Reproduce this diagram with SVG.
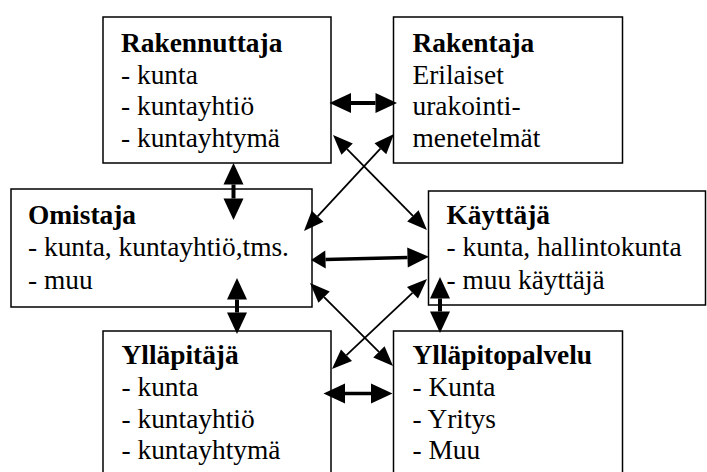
<svg xmlns="http://www.w3.org/2000/svg" width="707" height="472" viewBox="0 0 707 472">
  <style>
    .box { fill: #fff; stroke: #000; stroke-width: 1.5; }
    .t { font-family: 'Liberation Serif', 'Times New Roman', serif; font-size: 27.4px; fill: #000; }
    .h { font-weight: bold; }
    .bold { stroke: #000; stroke-width: 4; fill: none; }
    .thin { stroke: #000; stroke-width: 1.8; fill: none; }
  </style>
  <defs>
    <!-- arrowheads: origin sits on the shaft end, tip points outward -->
    <marker id="hb" markerUnits="userSpaceOnUse" viewBox="0 -11 23 22" markerWidth="23" markerHeight="22" refX="0" refY="0" orient="auto-start-reverse" overflow="visible">
      <path d="M0,-10 L21.5,0 L0,10 z" fill="#000"/>
    </marker>
    <marker id="hs" markerUnits="userSpaceOnUse" viewBox="0 -10 16 20" markerWidth="16" markerHeight="20" refX="0" refY="0" orient="auto-start-reverse" overflow="visible">
      <path d="M0,-9 L14.5,0 L0,9 z" fill="#000"/>
    </marker>
    <marker id="ht" markerUnits="userSpaceOnUse" viewBox="0 -9 21 18" markerWidth="21" markerHeight="18" refX="0" refY="0" orient="auto-start-reverse" overflow="visible">
      <path d="M0,-8 L20,0 L0,8 z" fill="#000"/>
    </marker>
  </defs>

  <g id="rakennuttaja">
    <rect class="box" x="103" y="17" width="228" height="146"/>
    <text class="t h" x="121" y="52">Rakennuttaja</text>
    <text class="t" x="121" y="83.5">- kunta</text>
    <text class="t" x="121" y="115">- kuntayhtiö</text>
    <text class="t" x="121" y="146.5">- kuntayhtymä</text>
  </g>

  <g id="rakentaja">
    <rect class="box" x="393.5" y="17" width="229" height="146"/>
    <text class="t h" x="412.5" y="52">Rakentaja</text>
    <text class="t" x="412.5" y="83.5">Erilaiset</text>
    <text class="t" x="412.5" y="115">urakointi-</text>
    <text class="t" x="412.5" y="146.5">menetelmät</text>
  </g>

  <g id="omistaja">
    <rect class="box" x="11" y="189" width="301" height="118"/>
    <text class="t h" x="28" y="223.5">Omistaja</text>
    <text class="t" x="28" y="256">- kunta, kuntayhtiö,tms.</text>
    <text class="t" x="28" y="288.5">- muu</text>
  </g>

  <g id="kayttaja">
    <rect class="box" x="428.5" y="191" width="277" height="114"/>
    <text class="t h" x="446.5" y="224">Käyttäjä</text>
    <text class="t" x="446.5" y="256">- kunta, hallintokunta</text>
    <text class="t" x="446.5" y="288.5">- muu käyttäjä</text>
  </g>

  <g id="yllapitaja">
    <rect class="box" x="103" y="331" width="228" height="160"/>
    <text class="t h" x="121.5" y="363.5">Ylläpitäjä</text>
    <text class="t" x="121.5" y="395.5">- kunta</text>
    <text class="t" x="121.5" y="427.5">- kuntayhtiö</text>
    <text class="t" x="121.5" y="459">- kuntayhtymä</text>
  </g>

  <g id="yllapitopalvelu">
    <rect class="box" x="393.5" y="331" width="229" height="160"/>
    <text class="t h" x="412.5" y="363.5">Ylläpitopalvelu</text>
    <text class="t" x="412.5" y="395.5">- Kunta</text>
    <text class="t" x="412.5" y="427.5">- Yritys</text>
    <text class="t" x="412.5" y="459">- Muu</text>
  </g>

  <g id="connectors">
    <!-- Rakennuttaja <-> Rakentaja -->
    <line class="bold" x1="351" y1="103" x2="375.5" y2="103" marker-start="url(#hb)" marker-end="url(#hb)"/>
    <!-- Rakennuttaja <-> Omistaja -->
    <line class="bold" x1="233.5" y1="184.5" x2="233.5" y2="198.5" marker-start="url(#hb)" marker-end="url(#hb)"/>
    <!-- upper diagonal cross -->
    <line class="thin" x1="347.1" y1="149.2" x2="412.9" y2="215.8" marker-start="url(#ht)" marker-end="url(#ht)"/>
    <line class="thin" x1="380.4" y1="148.7" x2="317.6" y2="216.3" marker-start="url(#ht)" marker-end="url(#ht)"/>
    <!-- Omistaja <-> Käyttäjä -->
    <line class="bold" x1="325.5" y1="259.6" x2="407.5" y2="257.4" marker-start="url(#hs)" marker-end="url(#hb)" style="stroke-width:3.5"/>
    <!-- lower diagonal cross -->
    <line class="thin" x1="324.1" y1="297.1" x2="378.9" y2="351.9" marker-start="url(#ht)" marker-end="url(#ht)"/>
    <line class="thin" x1="412.5" y1="292.8" x2="346.5" y2="355.2" marker-start="url(#ht)" marker-end="url(#ht)"/>
    <!-- Omistaja <-> Ylläpitäjä -->
    <line class="bold" x1="237" y1="299.5" x2="237" y2="312.5" marker-start="url(#hb)" marker-end="url(#hb)"/>
    <!-- Käyttäjä <-> Ylläpitopalvelu -->
    <line class="bold" x1="440" y1="298.5" x2="440" y2="311.5" marker-start="url(#hb)" marker-end="url(#hb)"/>
    <!-- Ylläpitäjä <-> Ylläpitopalvelu -->
    <line class="bold" x1="345" y1="393.5" x2="371" y2="393.5" marker-start="url(#hb)" marker-end="url(#hb)" style="stroke-width:3.5"/>
  </g>
</svg>
